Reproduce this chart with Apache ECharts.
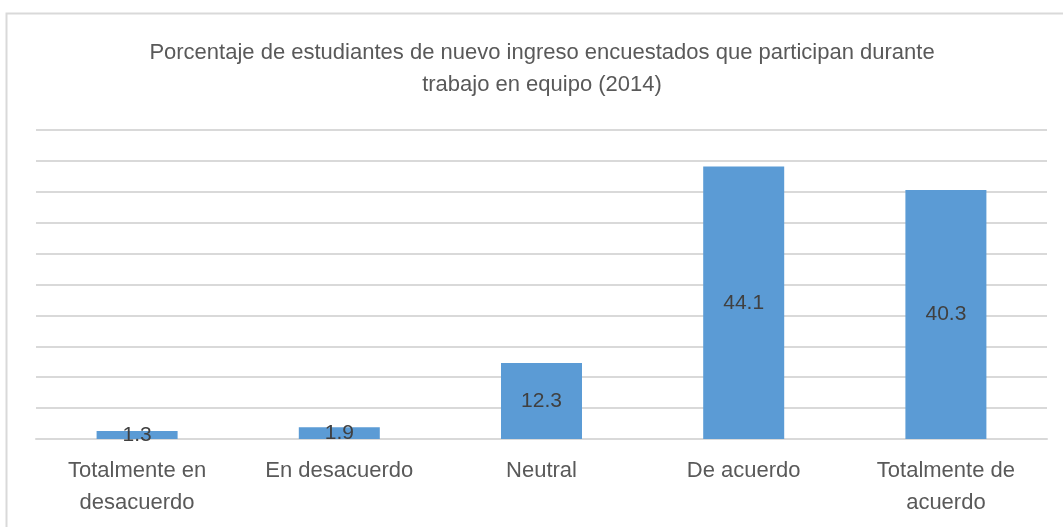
<!DOCTYPE html>
<html>
<head>
<meta charset="utf-8">
<script src="https://cdn.jsdelivr.net/npm/echarts@6/dist/echarts.min.js"></script>
<style>
  html, body { margin: 0; padding: 0; background: #fff; }
  #main { width: 1063px; height: 527px; }
</style>
</head>
<body>
<div id="main"></div>
<script>
// datos del gráfico
const categorias = ['Totalmente en\ndesacuerdo', 'En desacuerdo', 'Neutral', 'De acuerdo', 'Totalmente de\nacuerdo'];
const porcentajes = [1.3, 1.9, 12.3, 44.1, 40.3];
const titulo = 'Porcentaje de estudiantes de nuevo ingreso encuestados que participan durante\ntrabajo en equipo (2014)';

const fuente = '"Liberation Sans", Arial, sans-serif';
const chart = echarts.init(document.getElementById('main'));

const option = {
  backgroundColor: '#fff',
  animation: false,
  textStyle: { fontFamily: fuente },
  title: {
    text: titulo,
    left: 537,
    textAlign: 'center',
    top: 32,
    textStyle: {
      fontFamily: fuente,
      fontSize: 22,
      fontWeight: 'normal',
      color: '#595959',
      lineHeight: 32
    }
  },
  graphic: [{
    type: 'rect',
    shape: { x: 6.5, y: 13.5, width: 1100, height: 600 },
    style: { fill: 'none', stroke: '#d9d9d9', lineWidth: 2 },
    silent: true
  }],
  grid: { left: 36, right: 16, top: 130, bottom: 88 },
  xAxis: {
    type: 'category',
    data: categorias,
    axisTick: { show: false },
    axisLine: { lineStyle: { color: '#d9d9d9', width: 2 } },
    axisLabel: {
      fontFamily: fuente,
      fontSize: 22,
      color: '#595959',
      lineHeight: 32,
      margin: 16,
      interval: 0
    }
  },
  yAxis: {
    type: 'value',
    min: 0,
    max: 50,
    interval: 5,
    axisLabel: { show: false },
    axisLine: { show: false },
    axisTick: { show: false },
    splitLine: { lineStyle: { color: '#d9d9d9', width: 2 } }
  },
  series: [{
    type: 'bar',
    data: porcentajes,
    barWidth: 81,
    itemStyle: { color: '#5b9bd5' },
    label: {
      show: true,
      position: 'inside',
      fontFamily: fuente,
      fontSize: 21,
      color: '#404040'
    }
  }]
};

option && chart.setOption(option);
</script>
</body>
</html>
